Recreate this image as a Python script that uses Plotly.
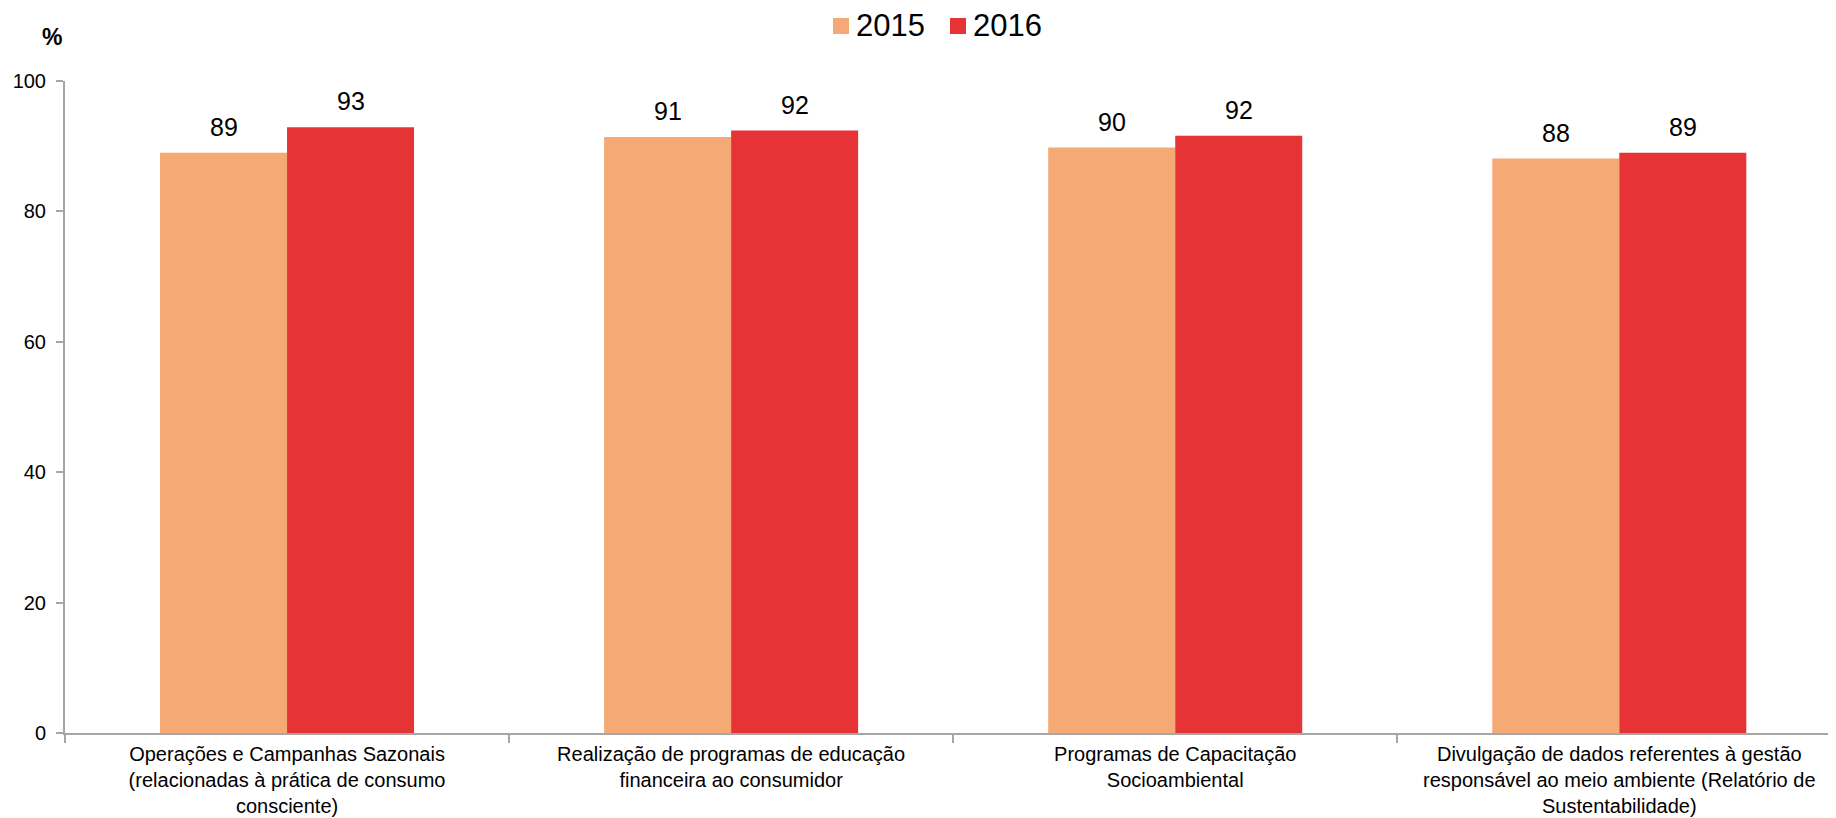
import plotly.graph_objects as go

categories = [
    "Operações e Campanhas Sazonais<br>(relacionadas à prática de consumo<br>consciente)",
    "Realização de programas de educação<br>financeira ao consumidor",
    "Programas de Capacitação<br>Socioambiental",
    "Divulgação de dados referentes à gestão<br>responsável ao meio ambiente (Relatório de<br>Sustentabilidade)",
]
series_names = ["2015", "2016"]
values_2015 = [89.0, 91.4, 89.8, 88.1]
values_2016 = [92.9, 92.4, 91.6, 89.0]
y_ticks = [0, 20, 40, 60, 80, 100]

colors = {"2015": "#F5A975", "2016": "#E63336"}

# page body has an 8px margin: figure coords = screen coords - 8
OFF = 8
W, H = 1836 - OFF, 818 - OFF
L, R, T, B = 65 - OFF, 0, 81 - OFF, H - (733 - OFF)
PW, PH = W - L - R, H - T - B
X_RANGE = [-0.5, 3.488]
BARGAP = 0.428
unit_px = PW / (X_RANGE[1] - X_RANGE[0])
bar_px = unit_px * (1 - BARGAP) / 2


def px(xs):  # screen x -> paper x
    return (xs - OFF - L) / PW


def py(ys):  # screen y -> paper y
    return 1 - (ys - OFF - T) / PH


fig = go.Figure()
for name, vals in zip(series_names, [values_2015, values_2016]):
    fig.add_trace(go.Bar(
        x=categories, y=vals, name=name, showlegend=False,
        marker=dict(color=colors[name], line=dict(width=0)),
        cliponaxis=False,
    ))

annotations = []
for i, (name, vals) in enumerate(zip(series_names, [values_2015, values_2016])):
    shift = (i - 0.5) * bar_px
    for c, v in zip(categories, vals):
        annotations.append(dict(
            x=c, y=v, xref="x", yref="y", text=f"{v:.0f}", showarrow=False,
            xshift=shift, yshift=26, xanchor="center", yanchor="middle",
            font=dict(family="Liberation Sans, Arial", size=25, color="#000000"),
        ))

# "%" unit label
annotations.append(dict(text="<b>%</b>", xref="paper", yref="paper", x=px(52), y=py(37),
                        xanchor="center", yanchor="middle", showarrow=False,
                        font=dict(family="Liberation Sans, Arial", size=23, color="#000000")))

# manual legend (larger swatches as in reference)
shapes = []
legend_items = [("2015", 833, 857), ("2016", 950, 974)]
for name, sx, tx in legend_items:
    shapes.append(dict(type="rect", xref="paper", yref="paper",
                       x0=px(sx), x1=px(sx + 16), y0=py(34), y1=py(18),
                       fillcolor=colors[name], line=dict(width=0)))
    annotations.append(dict(text=name, xref="paper", yref="paper", x=px(tx - 3), y=py(26),
                            xanchor="left", yanchor="middle", showarrow=False,
                            font=dict(family="Liberation Sans, Arial", size=31, color="#000000")))

fig.update_layout(
    width=W, height=H,
    margin=dict(l=L, r=R, t=T, b=B, autoexpand=False),
    paper_bgcolor="white", plot_bgcolor="white",
    barmode="group", bargap=BARGAP, bargroupgap=0,
    font=dict(family="Liberation Sans, Arial", color="#000000"),
    showlegend=False,
    xaxis=dict(
        range=X_RANGE, showline=True, linecolor="#A6A6A6", linewidth=2,
        ticks="outside", tickson="boundaries", ticklen=8, tickcolor="#A6A6A6", tickwidth=2,
        tickfont=dict(family="Liberation Sans, Arial", size=20, color="#000000"),
        ticklabelstandoff=2,
        showgrid=False, zeroline=False, fixedrange=True,
    ),
    yaxis=dict(
        range=[0, 100], tickvals=y_ticks, showline=True, linecolor="#A6A6A6", linewidth=2,
        ticks="outside", ticklen=7, tickcolor="#A6A6A6", tickwidth=2,
        tickfont=dict(family="Liberation Sans, Arial", size=20, color="#000000"),
        showgrid=False, zeroline=False, ticklabelstandoff=6,
    ),
    annotations=annotations,
    shapes=shapes,
)

fig.write_html("out.html")
